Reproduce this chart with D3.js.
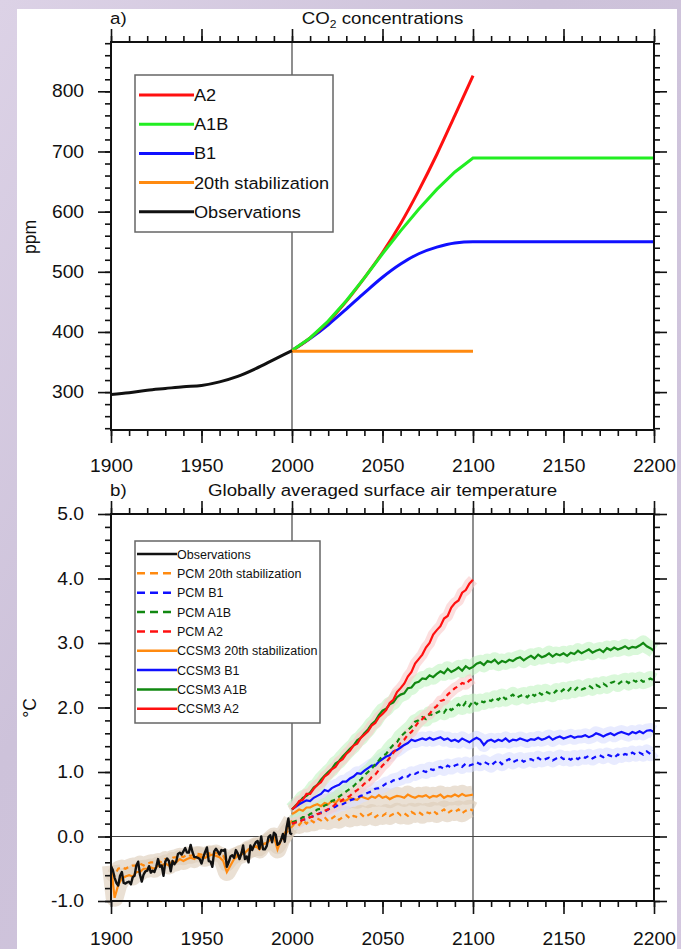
<!DOCTYPE html>
<html>
<head>
<meta charset="utf-8">
<script src="https://cdnjs.cloudflare.com/ajax/libs/d3/7.8.5/d3.min.js"></script>
<style>
body { margin: 0; overflow: hidden; }
text { font-family: "Liberation Sans", Arial, Helvetica, sans-serif; fill: #111; }
</style>
</head>
<body>
<script>
var W = 681, H = 949;

// ---------- panel a: CO2 (ppm) ----------
var obsDecades = [1900, 1910, 1920, 1930, 1940, 1950, 1960, 1970, 1980, 1990, 2000];
var co2Obs     = [296, 299, 303, 306, 309, 311, 317, 326, 339, 354, 369];
var scenDecades = [2000, 2010, 2020, 2030, 2040, 2050, 2060, 2070, 2080, 2090, 2100];
var scenDecadesExt = scenDecades.concat([2200]);
var co2A2  = [369, 390, 417, 451, 490, 532, 580, 635, 695, 760, 826];
var co2A1B = [369, 390, 418, 452, 490, 530, 568, 604, 637, 666, 689, 689];
var co2B1  = [369, 389, 412, 438, 465, 491, 513, 530, 541, 548, 550, 550];
var co2StabYears = [2000, 2100];
var co2Stab = [368, 368];

// ---------- panel b: temperature (deg C) ----------
var obsYears = d3.range(1900, 2001);
var tObs = [-0.46,-0.52,-0.64,-0.72,-0.76,-0.61,-0.55,-0.72,-0.73,-0.71,
            -0.70,-0.74,-0.63,-0.61,-0.45,-0.39,-0.59,-0.70,-0.59,-0.54,
            -0.53,-0.46,-0.56,-0.53,-0.55,-0.47,-0.35,-0.47,-0.45,-0.61,
            -0.39,-0.34,-0.38,-0.54,-0.38,-0.43,-0.39,-0.27,-0.25,-0.28,
            -0.23,-0.18,-0.25,-0.25,-0.13,-0.24,-0.32,-0.32,-0.33,-0.35,
            -0.42,-0.32,-0.24,-0.17,-0.38,-0.39,-0.47,-0.23,-0.19,-0.23,
            -0.28,-0.21,-0.22,-0.20,-0.47,-0.40,-0.31,-0.29,-0.33,-0.21,
            -0.26,-0.35,-0.27,-0.14,-0.35,-0.31,-0.40,-0.14,-0.21,-0.14,
            -0.09,-0.07,-0.19, 0.00,-0.20,-0.20,-0.15,-0.01, 0.02,-0.09,
             0.06, 0.03,-0.13,-0.11,-0.05, 0.04,-0.08, 0.14, 0.28, 0.05, 0.03];

var histYears = d3.range(1900, 2001, 2);
var ccsmHist = [-0.45,-0.95,-0.75,-0.65,-0.62,-0.60,-0.62,-0.55,-0.55,-0.50,
                -0.50,-0.48,-0.50,-0.45,-0.45,-0.42,-0.45,-0.38,-0.40,-0.35,
                -0.38,-0.35,-0.33,-0.35,-0.30,-0.32,-0.33,-0.30,-0.28,-0.30,
                -0.32,-0.38,-0.55,-0.45,-0.35,-0.30,-0.28,-0.25,-0.20,-0.18,
                -0.15,-0.20,-0.12,-0.10,-0.05, 0.00,-0.20,-0.05, 0.05, 0.15, 0.25];
var pcmHist  = [-0.55,-0.60,-0.50,-0.48,-0.50,-0.47,-0.45,-0.45,-0.42,-0.45,
                -0.42,-0.40,-0.40,-0.38,-0.40,-0.35,-0.37,-0.33,-0.32,-0.30,
                -0.32,-0.28,-0.30,-0.28,-0.27,-0.28,-0.30,-0.26,-0.27,-0.25,
                -0.28,-0.30,-0.42,-0.35,-0.30,-0.28,-0.25,-0.25,-0.20,-0.20,
                -0.15,-0.18,-0.12,-0.10,-0.05,-0.02,-0.15,-0.05, 0.02, 0.10, 0.15];

var futYears  = d3.range(2000, 2101, 2);
var longYears = d3.range(2000, 2201, 2);

var ccsmA2 = [0.42,0.47,0.55,0.57,0.66,0.66,0.74,0.80,0.84,0.93,
              0.97,1.04,1.08,1.16,1.20,1.28,1.33,1.41,1.44,1.53,
              1.58,1.63,1.72,1.76,1.85,1.90,1.96,2.07,2.12,2.24,
              2.30,2.37,2.48,2.55,2.68,2.75,2.82,2.93,3.00,3.13,
              3.20,3.26,3.38,3.42,3.55,3.62,3.66,3.78,3.82,3.92,3.98];
var ccsmA1B = [0.42,0.48,0.53,0.60,0.63,0.68,0.76,0.80,0.88,0.94,
               1.00,1.05,1.13,1.17,1.24,1.30,1.36,1.41,1.49,1.53,
               1.60,1.66,1.74,1.79,1.88,1.95,1.98,2.05,2.08,2.16,
               2.20,2.22,2.30,2.31,2.38,2.40,2.45,2.44,2.50,2.47,
               2.52,2.56,2.53,2.60,2.55,2.58,2.62,2.57,2.64,2.60,2.63,
               2.68,2.70,2.66,2.72,2.70,2.74,2.68,2.72,2.70,2.74,
               2.72,2.76,2.78,2.73,2.77,2.80,2.76,2.82,2.78,2.80,
               2.84,2.79,2.83,2.81,2.84,2.80,2.85,2.83,2.88,2.84,
               2.87,2.90,2.85,2.88,2.90,2.86,2.92,2.89,2.93,2.90,
               2.92,2.95,2.91,2.94,2.93,2.96,3.00,2.95,2.92,2.88];
var ccsmB1 = [0.42,0.46,0.50,0.53,0.56,0.55,0.60,0.63,0.66,0.72,
              0.70,0.75,0.78,0.80,0.85,0.85,0.90,0.93,0.98,0.97,
              1.02,1.06,1.10,1.10,1.16,1.20,1.24,1.26,1.32,1.34,
              1.38,1.42,1.45,1.50,1.48,1.50,1.52,1.50,1.53,1.50,
              1.52,1.54,1.50,1.52,1.48,1.50,1.47,1.52,1.49,1.46,1.50,
              1.53,1.50,1.42,1.48,1.50,1.47,1.50,1.48,1.52,1.47,
              1.50,1.49,1.52,1.50,1.48,1.51,1.50,1.53,1.50,1.52,
              1.55,1.50,1.53,1.55,1.52,1.54,1.56,1.53,1.55,1.55,
              1.57,1.54,1.56,1.60,1.58,1.55,1.58,1.60,1.57,1.60,
              1.62,1.60,1.58,1.62,1.60,1.63,1.60,1.64,1.65,1.62];
var ccsmStab = [0.35,0.38,0.42,0.40,0.45,0.45,0.48,0.50,0.47,0.52,
                0.50,0.55,0.52,0.58,0.55,0.56,0.60,0.58,0.57,0.62,
                0.60,0.58,0.62,0.60,0.64,0.60,0.62,0.58,0.61,0.63,
                0.62,0.60,0.65,0.62,0.60,0.63,0.62,0.64,0.60,0.63,
                0.62,0.65,0.60,0.63,0.62,0.65,0.62,0.66,0.63,0.64,0.65];

var pcmA2 = [0.20,0.22,0.22,0.26,0.27,0.30,0.31,0.35,0.36,0.40,
             0.42,0.45,0.50,0.52,0.57,0.60,0.63,0.68,0.72,0.76,
             0.82,0.85,0.92,0.96,1.03,1.10,1.15,1.22,1.30,1.36,
             1.45,1.50,1.58,1.62,1.70,1.78,1.82,1.88,1.90,1.98,
             2.02,2.10,2.12,2.20,2.25,2.30,2.33,2.38,2.36,2.42,2.45];
var pcmA1B = [0.22,0.24,0.26,0.30,0.30,0.35,0.37,0.42,0.43,0.48,
              0.50,0.55,0.57,0.62,0.66,0.70,0.74,0.78,0.84,0.88,
              0.95,1.00,1.05,1.12,1.18,1.25,1.28,1.36,1.42,1.46,
              1.55,1.60,1.65,1.70,1.78,1.80,1.85,1.82,1.90,1.88,
              1.92,1.95,1.92,2.00,1.96,2.00,2.05,2.00,2.08,2.02,2.10,
              2.05,2.10,2.08,2.12,2.10,2.15,2.12,2.18,2.13,2.16,
              2.20,2.15,2.18,2.20,2.16,2.22,2.18,2.24,2.20,2.25,
              2.22,2.20,2.26,2.23,2.28,2.24,2.30,2.26,2.32,2.28,
              2.30,2.34,2.30,2.35,2.32,2.37,2.33,2.38,2.40,2.36,
              2.40,2.42,2.38,2.43,2.40,2.44,2.40,2.42,2.45,2.42];
var pcmB1 = [0.20,0.22,0.24,0.26,0.27,0.30,0.32,0.34,0.37,0.38,
             0.42,0.44,0.46,0.50,0.50,0.53,0.56,0.58,0.60,0.63,
             0.65,0.68,0.70,0.74,0.75,0.78,0.82,0.83,0.87,0.88,
             0.90,0.94,0.93,0.98,0.97,1.00,1.02,1.00,1.05,1.03,
             1.06,1.08,1.05,1.10,1.07,1.10,1.12,1.08,1.13,1.10,1.12,
             1.15,1.12,1.16,1.13,1.10,1.15,1.18,1.12,1.17,1.20,
             1.15,1.18,1.20,1.16,1.19,1.20,1.17,1.22,1.18,1.20,
             1.22,1.18,1.21,1.24,1.20,1.22,1.19,1.23,1.20,1.24,
             1.22,1.25,1.21,1.24,1.26,1.23,1.27,1.25,1.22,1.27,
             1.25,1.28,1.26,1.30,1.27,1.30,1.27,1.32,1.28,1.33];
var pcmStab = [0.15,0.22,0.18,0.25,0.20,0.26,0.22,0.28,0.25,0.30,
               0.24,0.28,0.32,0.26,0.30,0.33,0.28,0.32,0.30,0.35,
               0.30,0.33,0.36,0.30,0.34,0.32,0.36,0.32,0.35,0.38,
               0.33,0.36,0.32,0.38,0.35,0.38,0.34,0.38,0.36,0.40,
               0.35,0.38,0.42,0.36,0.40,0.38,0.42,0.36,0.40,0.43,0.40];

var yearTicks = [1900, 1950, 2000, 2050, 2100, 2150, 2200];

// colours
var cRed = "#ff1010", cLime = "#22ee22", cBlue = "#1010ff", cOrange = "#ff8a10",
    cGreen = "#118811", cTan = "#dccbb8";

var svg = d3.select("body").append("svg")
    .attr("width", W).attr("height", H);

// lavender background + white sheet
var defs = svg.append("defs");
var bg = defs.append("linearGradient").attr("id", "bg")
    .attr("x1", 0).attr("y1", 0).attr("x2", 1).attr("y2", 1);
bg.append("stop").attr("offset", 0).attr("stop-color", "#dcd2e6");
bg.append("stop").attr("offset", 0.4).attr("stop-color", "#cdc2da");
bg.append("stop").attr("offset", 1).attr("stop-color", "#d3c7df");
svg.append("rect").attr("width", W).attr("height", H).attr("fill", "url(#bg)");
svg.append("rect").attr("x", 17).attr("y", 9).attr("width", 660).attr("height", H - 9)
    .attr("fill", "#fff");

var x = d3.scaleLinear().domain([1900, 2200]).range([111, 654]);

function stretchTicks(g) {
  g.selectAll(".tick text").attr("transform", "scale(1.1,1)");
}

function frame(y, yMajor, yMinor, fmt, padB) {
  var top = y.range()[1], bot = y.range()[0];
  var g = svg.append("g");
  var minorX = d3.range(1900, 2201, 10);
  // minor ticks, all four sides, pointing out
  g.append("g").attr("transform", "translate(0," + bot + ")")
    .call(d3.axisBottom(x).tickValues(minorX).tickSize(6).tickSizeOuter(0).tickFormat(""));
  g.append("g").attr("transform", "translate(0," + top + ")")
    .call(d3.axisTop(x).tickValues(minorX).tickSize(6).tickSizeOuter(0).tickFormat(""));
  g.append("g").attr("transform", "translate(111,0)")
    .call(d3.axisLeft(y).tickValues(yMinor).tickSize(6).tickSizeOuter(0).tickFormat(""));
  g.append("g").attr("transform", "translate(654,0)")
    .call(d3.axisRight(y).tickValues(yMinor).tickSize(6).tickSizeOuter(0).tickFormat(""));
  // major ticks
  g.append("g").attr("transform", "translate(0," + bot + ")")
    .call(d3.axisBottom(x).tickValues(yearTicks).tickSize(13).tickSizeOuter(0)
      .tickPadding(padB).tickFormat(d3.format("d")))
    .call(stretchTicks);
  g.append("g").attr("transform", "translate(0," + top + ")")
    .call(d3.axisTop(x).tickValues(yearTicks).tickSize(13).tickSizeOuter(0).tickFormat(""));
  g.append("g").attr("transform", "translate(111,0)")
    .call(d3.axisLeft(y).tickValues(yMajor).tickSize(13).tickSizeOuter(0)
      .tickPadding(11.5).tickFormat(fmt))
    .call(stretchTicks);
  g.append("g").attr("transform", "translate(654,0)")
    .call(d3.axisRight(y).tickValues(yMajor).tickSize(13).tickSizeOuter(0).tickFormat(""));

  g.selectAll(".domain").remove();
  g.selectAll(".tick line").attr("stroke", "#111").attr("stroke-width", 1.6);
  g.selectAll(".tick text").attr("font-size", 17.5).attr("fill", "#111")
    .attr("font-family", "'Liberation Sans', Arial, sans-serif");
  g.append("rect").attr("x", 111).attr("y", top).attr("width", 543).attr("height", bot - top)
    .attr("fill", "none").attr("stroke", "#111").attr("stroke-width", 2);
}

function title(xp, yp, anchor) {
  return svg.append("text")
    .attr("transform", "translate(" + xp + "," + yp + ") scale(1.1,1)")
    .attr("text-anchor", anchor).attr("font-size", 17);
}

function legend(bx, by, bw, bh, items, y0, dy, x1, x2, fs, sw, stretch) {
  var g = svg.append("g");
  g.append("rect").attr("x", bx).attr("y", by).attr("width", bw).attr("height", bh)
    .attr("fill", "#fff").attr("stroke", "#666").attr("stroke-width", 1.5);
  items.forEach(function(d, i) {
    var yy = y0 + i * dy;
    g.append("line").attr("x1", x1).attr("x2", d.dash ? x2 - 2 : x2)
      .attr("y1", yy).attr("y2", yy)
      .attr("stroke", d.color).attr("stroke-width", sw)
      .attr("stroke-dasharray", d.dash ? "8,5" : null);
    g.append("text")
      .attr("transform", "translate(" + x2 + "," + yy + ") scale(" + stretch + ",1)")
      .attr("dy", "0.36em").attr("font-size", fs).text(d.label);
  });
}

function pairs(xs, ys) { return xs.map(function(v, i) { return [v, ys[i]]; }); }

// ================= panel a =================
var ya = d3.scaleLinear().domain([237, 882]).range([430, 42]);

svg.append("line").attr("x1", x(2000)).attr("x2", x(2000))
  .attr("y1", ya.range()[1]).attr("y2", ya.range()[0])
  .attr("stroke", "#444").attr("stroke-width", 1.2);

var lineA = d3.line().curve(d3.curveMonotoneX)
  .x(function(d) { return x(d[0]); }).y(function(d) { return ya(d[1]); });
var lineAL = d3.line()
  .x(function(d) { return x(d[0]); }).y(function(d) { return ya(d[1]); });

var ga = svg.append("g").attr("fill", "none").attr("stroke-width", 3);
ga.append("path").attr("d", lineA(pairs(scenDecadesExt, co2B1))).attr("stroke", cBlue);
ga.append("path").attr("d", lineA(pairs(scenDecades, co2A2))).attr("stroke", cRed);
ga.append("path").attr("d", lineAL(pairs(scenDecadesExt, co2A1B))).attr("stroke", cLime);
ga.append("path").attr("d", lineAL(pairs(co2StabYears, co2Stab))).attr("stroke", cOrange);
ga.append("path").attr("d", lineA(pairs(obsDecades, co2Obs))).attr("stroke", "#111");

frame(ya, d3.range(300, 801, 100), d3.range(240, 881, 20), d3.format("d"), 16.6);

title(110, 24, "start").text("a)");
var t1 = title(382.5, 24, "middle");
t1.append("tspan").text("CO");
t1.append("tspan").attr("font-size", 11).attr("dy", 4).text("2");
t1.append("tspan").attr("dy", -4).text(" concentrations");

svg.append("text").attr("transform", "translate(36,237) rotate(-90)")
  .attr("text-anchor", "middle").attr("font-size", 17.5).text("ppm");

legend(135, 75, 198, 157, [
  {label: "A2", color: cRed},
  {label: "A1B", color: cLime},
  {label: "B1", color: cBlue},
  {label: "20th stabilization", color: cOrange},
  {label: "Observations", color: "#111"}
], 95, 29.2, 139, 194, 16.5, 3, 1.1);

// ================= panel b =================
var yb = d3.scaleLinear().domain([-1, 5]).range([901, 514]);

var gref = svg.append("g").attr("stroke", "#444").attr("stroke-width", 1.2);
gref.append("line").attr("x1", x(2000)).attr("x2", x(2000)).attr("y1", 514).attr("y2", 901);
gref.append("line").attr("x1", x(2100)).attr("x2", x(2100)).attr("y1", 514).attr("y2", 901);
gref.append("line").attr("x1", 111).attr("x2", 654).attr("y1", yb(0)).attr("y2", yb(0));

var lineB = d3.line()
  .x(function(d) { return x(d[0]); }).y(function(d) { return yb(d[1]); });

var series = [
  {yrs: histYears, v: pcmHist,  c: cOrange, dash: true,  band: cTan,      bw: 16},
  {yrs: histYears, v: ccsmHist, c: cOrange, dash: false, band: cTan,      bw: 18},
  {yrs: futYears,  v: pcmStab,  c: cOrange, dash: true,  band: cTan,      bw: 18},
  {yrs: futYears,  v: ccsmStab, c: cOrange, dash: false, band: cTan,      bw: 18},
  {yrs: longYears, v: pcmB1,    c: cBlue,   dash: true,  band: "#d8ddff", bw: 14},
  {yrs: longYears, v: ccsmB1,   c: cBlue,   dash: false, band: "#d8ddff", bw: 14},
  {yrs: longYears, v: pcmA1B,   c: cGreen,  dash: true,  band: "#c2f4c2", bw: 15},
  {yrs: longYears, v: ccsmA1B,  c: cGreen,  dash: false, band: "#c2f4c2", bw: 15},
  {yrs: futYears,  v: pcmA2,    c: cRed,    dash: true,  band: "#fac8c8", bw: 11},
  {yrs: futYears,  v: ccsmA2,   c: cRed,    dash: false, band: "#fac8c8", bw: 11}
];

var gb = svg.append("g").attr("fill", "none");
series.forEach(function(s) {
  gb.append("path").attr("d", lineB(pairs(s.yrs, s.v)))
    .attr("stroke", s.band).attr("stroke-width", s.bw).attr("stroke-opacity", 0.6)
    .attr("stroke-linejoin", "round");
});
series.forEach(function(s) {
  gb.append("path").attr("d", lineB(pairs(s.yrs, s.v)))
    .attr("stroke", s.c).attr("stroke-width", 2.2)
    .attr("stroke-dasharray", s.dash ? "5,4" : null);
});
gb.append("path").attr("d", lineB(pairs(obsYears, tObs)))
  .attr("stroke", "#111").attr("stroke-width", 2.4).attr("stroke-linejoin", "round");

frame(yb, d3.range(-1, 5.01, 1), d3.range(-1, 5.01, 0.2),
  function(d) { return d3.format(".1f")(d).replace("\u2212", "-"); }, 18.6);

title(110, 496, "start").text("b)");
title(382.5, 496, "middle").text("Globally averaged surface air temperature");

svg.append("text").attr("transform", "translate(36,708) rotate(-90)")
  .attr("text-anchor", "middle").attr("font-size", 17.5).text("\u00b0C");

legend(135, 541, 185, 182, [
  {label: "Observations", color: "#111"},
  {label: "PCM 20th stabilization", color: cOrange, dash: true},
  {label: "PCM B1", color: cBlue, dash: true},
  {label: "PCM A1B", color: cGreen, dash: true},
  {label: "PCM A2", color: cRed, dash: true},
  {label: "CCSM3 20th stabilization", color: cOrange},
  {label: "CCSM3 B1", color: cBlue},
  {label: "CCSM3 A1B", color: cGreen},
  {label: "CCSM3 A2", color: cRed}
], 554, 19.35, 137, 177, 12.5, 2.5, 1);
</script>
</body>
</html>
